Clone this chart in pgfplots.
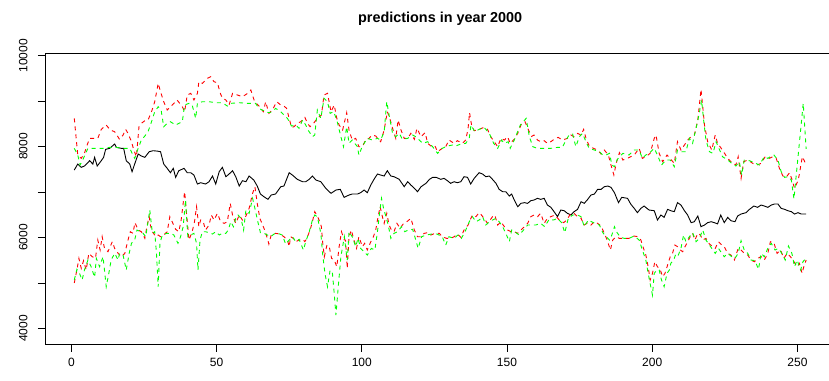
\documentclass[border=0pt]{standalone}
\usepackage{pgfplots}
\pgfplotsset{compat=1.18}
\usepackage{fontspec}
\setmainfont{Liberation Sans}

\begin{document}
\begin{tikzpicture}[x=1pt,y=1pt]
\useasboundingbox (0,0) rectangle (829,380);
\node[font=\fontsize{14.4}{17}\selectfont\bfseries] at (440.2,361) {predictions in year 2000};
\begin{axis}[
	at={(45pt,35.2pt)}, anchor=south west,
	scale only axis, width=790.4pt, height=291.5pt,
	xmin=-9.08, xmax=263.08,
	ymin=3640, ymax=10053,
	axis line style={line width=0.8pt},
	tick align=outside, major tick length=7pt,
	tick pos=left,
	tick style={black, line width=0.8pt},
	xtick={0,50,...,250},
	ytick={4000,5000,...,10000},
	yticklabels={4000,,6000,,8000,,10000},
	scaled y ticks=false,
	yticklabel style={rotate=90, yshift=7pt},
	xticklabel style={yshift=-3pt},
	tick label style={font=\fontsize{12}{14}\selectfont},
	/pgf/number format/assume math mode=true,
	no markers,
	every axis plot/.append style={line width=0.9pt},
]

% actual values (black)
\addplot[black] coordinates {
(1,7485)(2.2,7617)(3.4,7544)(4.5,7573)(6.3,7690)(7.4,7617)(8,7764)(8.9,7573)(10.3,7690)(11.1,7764)(11.8,7940)(13.2,7962)(14.9,8057)(15.5,7984)(17.2,7962)(18,7962)(18.9,7690)(20.1,7617)(20.9,7448)(21.8,7617)(23,7837)(24.1,7793)(25.3,7764)(26.8,7888)(28.2,7910)(29.7,7900)
(30.7,7888)(31.8,7617)(33,7522)(34.1,7426)(35.1,7522)(35.9,7324)(37,7470)(38.8,7522)(39.9,7426)(41.1,7426)(42.2,7375)(43.4,7177)(44.5,7206)(46.2,7177)(47.4,7228)(48.6,7353)(49.7,7177)(50.9,7448)(52,7544)(53.2,7338)(54.3,7397)(55.5,7470)(56.6,7338)(57.8,7133)(58.9,7250)(60.1,7228)(61.2,7353)
(62.8,7265)(64,7133)(65.1,6957)(66.3,6898)(67.7,6840)(68.8,6935)(70.3,6957)(72.1,7118)(73.2,7133)(75,7426)(76.1,7375)(77.8,7280)(79.6,7228)(80.7,7228)(81.9,7280)(83,7353)(84.2,7265)(85.9,7228)(87.6,7082)(89.4,6972)(91.1,7045)(92.6,7060)
(93.9,6884)(95.6,6935)(96.7,6957)(98.5,6957)(99.6,6986)(100.8,7045)(101.9,6986)(103.1,7155)(104.2,7280)(105.4,7397)(106.5,7375)(107.7,7353)(108.8,7470)(110,7353)(111.1,7338)(112.9,7280)(114.6,7118)(115.8,7228)(116.9,7155)(118.1,7082)(119.2,7008)(120.4,7118)(122.1,7192)(123.3,7280)(124.4,7324)(125.6,7324)
(127.2,7280)(128.3,7302)(129.5,7250)(130.6,7192)(131.8,7228)(132.9,7206)(134.1,7228)(135.2,7338)(136.4,7324)(137.5,7177)(138.7,7302)(140.4,7426)(141.6,7397)(142.7,7338)(143.9,7353)(145,7280)(146.2,7192)(147.3,7060)(148.5,7008)(149.6,7008)(150.8,6913)(151.6,6957)(152.5,6825)(153.7,6678)(154.8,6752)(156,6767)(157.1,6752)
(158.2,6811)(159.3,6825)(160.5,6862)(161.6,6840)(162.8,6862)(163.9,6715)(165.1,6664)(166.2,6569)(167.4,6459)(168.5,6605)(169.7,6590)(170.8,6532)(172,6495)(173.1,6569)(174.3,6620)(175.5,6789)(176.6,6752)(177.8,6840)(178.9,6935)(180.1,6957)(181.2,7060)(182.4,7060)(183.5,7118)(184.7,7133)(185.8,7104)(187,6986)(188.4,6767)(189.5,6884)
(191.5,6862)(192.6,6737)(193.8,6642)(194.9,6547)(196.1,6642)(197.2,6693)(198.9,6605)(200.7,6590)(201.8,6385)(203,6495)(204.1,6444)(205.3,6620)(206.4,6590)(207.6,6569)(208.7,6767)(209.9,6715)(211.1,6590)(212.2,6495)(213.4,6327)(214.5,6348)(215.7,6473)(216.8,6238)(218,6275)(219.1,6327)(220.3,6348)(221.4,6327)
(222.5,6300)(223.6,6495)(224.8,6327)(226,6444)(227.1,6370)(228.5,6348)(229.4,6473)(230.6,6517)(232.3,6547)(233.5,6620)(235,6693)(236.3,6664)(237.5,6715)(238.6,6693)(239.8,6664)(241,6715)(242.1,6737)(243.3,6737)(244.4,6642)(245.6,6620)(246.7,6590)(247.9,6569)(249,6517)(250.2,6547)(251.3,6517)(253,6517)
};

% upper prediction bound (red)
\addplot[red, dash pattern=on 4pt off 4pt] coordinates {
(1,8622)(2.2,7815)(3.4,7742)(4.5,7852)(5.3,8013)(6.3,8182)(8,8182)(9.1,8182)(10.3,8380)(12,8475)(13.4,8365)(14.9,8328)(16.6,8160)(17.8,8255)(18.7,8380)(19.5,8292)(20.7,8108)(21.5,7925)(22.4,7779)(23.3,8453)(24.1,8512)(25.3,8570)(26.4,8585)(27.6,8768)(28.7,8988)(29.9,9392)
(30.7,9208)(31.8,8988)(33,8805)(34.7,8915)(36.4,9025)(38.2,8878)(39,8768)(39.9,9135)(41.1,9172)(42.2,9025)(43.4,9172)(43.9,9428)(45.1,9392)(46.8,9502)(48,9538)(49.1,9428)(50.3,9406)(51.2,9187)(52,9062)(53.2,9025)(54.3,8915)(55.5,9172)(57.2,9135)(58.9,9098)(60.7,9172)(61.8,9245)
(63.1,8988)(64.6,8893)(66.1,8768)(66.9,8988)(68,8732)(69.2,8805)(70.7,8988)(72.1,8915)(73.2,8893)(74.1,8842)(75,8622)(75.8,8424)(76.7,8438)(77.8,8512)(79,8548)(80.4,8644)(81.3,8512)(82.2,8438)(83.4,8512)(84.7,8622)(86.1,8695)(87,9135)(88.2,9172)(89.4,8768)(90.5,8915)(91.4,8622)(92.2,8475)(93.4,8365)
(94.8,8746)(95.6,8365)(96.7,8145)(97.9,8182)(99,7998)(100.2,7998)(101.3,8145)(102.5,8182)(103.6,8255)(104.8,8233)(106.5,8108)(107.7,8365)(108.8,8768)(109.8,8585)(110.6,8402)(111.7,8182)(112.5,8585)(113.5,8365)(114.6,8182)(115.8,8182)(116.9,8292)(118.1,8160)(119,8402)(120.4,8218)(121.8,8307)(122.7,8072)(124.1,7998)(125.2,8013)(126.1,7888)
(127.7,7962)(128.9,7998)(130,8145)(131.8,8072)(132.9,8131)(134.6,8072)(135.8,8145)(136.6,8402)(137.1,8746)(137.8,8475)(138.7,8350)(140.4,8380)(142.1,8424)(143.3,8380)(144.4,8218)(145.6,8108)(146.8,7998)(147.9,8182)(149.1,8145)(150.2,8218)(151.1,8072)(152.5,8160)(153.7,8292)(154.8,8475)(156.2,8548)(157.4,8365)
(158.5,8225)(159.3,8255)(160.5,8145)(161.6,8108)(162.8,8131)(163.9,8072)(165.1,8108)(166.2,8160)(167.6,8204)(169.1,8145)(170.8,8182)(172,8255)(173.1,8218)(174.3,8292)(175.5,8255)(176.4,8380)(177.2,8182)(178.3,8013)(179.8,7962)(181.2,7925)(182.4,7837)(183.5,7925)(184.9,7815)(185.8,7595)(186.8,7375)(187.6,7632)(188.7,7866)(189.9,7705)
(191.5,7742)(192.6,7779)(193.8,7815)(195.5,7962)(196.6,7742)(197.8,7779)(199.3,7852)(200.7,8182)(201.3,8255)(202.4,7852)(203.6,7668)(205.1,7815)(206.4,7720)(207.6,7632)(208.7,8108)(209.9,7925)(211.1,8035)(212.2,8145)(213.4,8218)(214.5,8255)(215.7,8585)(216.8,9260)(217.4,8878)(218,8475)(219.1,8108)(220.5,7925)(221.7,8255)
(222.5,8072)(224.2,7925)(226,7742)(227.7,7632)(228.8,7595)(229.6,7779)(230.6,7302)(231.5,7668)(232.9,7705)(234.6,7632)(236.1,7595)(237.5,7632)(238.9,7779)(240.4,7742)(241.5,7779)(242.7,7742)(243.8,7522)(245,7353)(246.1,7324)(247.3,7426)(248.1,7280)(249,7082)(250.3,7265)(251.7,7780)(253,7600)
};

% upper prediction bound (green)
\addplot[green, dash pattern=on 4pt off 4pt] coordinates {
(1,7962)(2.2,7815)(3,7595)(3.9,7705)(5.7,7962)(8,7962)(10.9,7962)(13.2,7984)(15.5,7984)(17.2,7962)(20.1,7962)(21.2,7815)(21.8,7742)(23,7962)(24.1,8145)(25.3,8233)(26.4,8328)(27.6,8548)(28.7,8768)(29.9,8878)
(30.9,8805)(31.8,8438)(33,8512)(34.1,8548)(35.9,8475)(37,8512)(38.2,8548)(39,8915)(40.5,8952)(41.6,8915)(42.8,8622)(43.4,8952)(45.1,8988)(47.4,8988)(49.7,8966)(52,8966)(53.7,8893)(54.9,8952)(57.8,8966)(60.7,8952)
(63.4,8952)(64.6,8842)(65.7,8805)(66.9,8768)(68,8746)(69.2,8768)(70.3,8842)(72.1,8768)(73.2,8695)(74.4,8622)(75.8,8453)(77.3,8475)(78.4,8402)(79.6,8585)(80.7,8475)(81.5,8365)(83,8218)(83.8,8255)(84.7,8805)(85.9,8622)(87,9062)(88.2,8988)(89.1,8732)(90.3,8768)(91.4,8585)(92.8,8218)(93.7,7998)
(94.8,8438)(95.6,8072)(96.7,8145)(98.5,7998)(99,7815)(100.2,8013)(101.9,8182)(103.6,8145)(105.4,8182)(106.5,8145)(107.7,8328)(108.6,8988)(109.4,8695)(110.6,8292)(111.7,8218)(112.9,8292)(114,8160)(115.8,8182)(117.5,8255)(118.6,8218)(119.8,8145)(121,8072)(122.7,8108)(124.4,7998)(126.1,7852)
(127.7,7962)(129.5,8013)(131.2,8035)(132.3,8013)(134.1,8057)(135.8,8072)(137,8182)(137.6,8475)(138.9,8328)(140.4,8380)(142.1,8424)(143.9,8292)(145.4,8072)(146.8,7962)(148.1,8145)(149.1,8072)(150.4,8108)(151.1,7962)(152.5,8145)(154.6,8475)(156.6,8622)(157.7,8218)(158.9,7998)
(160.5,7962)(162.8,7962)(165.1,7962)(167.4,7984)(169.1,7984)(170.3,8145)(171.4,8255)(172.6,8277)(173.7,7998)(174.9,8218)(176,8292)(177.2,8108)(178.3,7962)(180.1,7925)(181.8,7888)(183,7815)(184.1,7815)(185.3,7852)(186.1,7595)(187,7558)(187.9,7705)(188.7,7779)(189.9,7852)
(192,7815)(193.8,7925)(195.5,7925)(196.6,7742)(197.8,7815)(199.5,7888)(200.7,7962)(201.8,7815)(203.2,7595)(204.7,7705)(206.2,7705)(207.6,7558)(208.7,7925)(210.1,7888)(211.6,7888)(212.8,8182)(213.9,8072)(215.1,8402)(216.2,8732)(217,9025)(217.7,8585)(218.5,8145)(219.7,7888)(220.9,7852)(222,8108)
(224.2,7779)(226,7705)(227.7,7617)(228.8,7573)(230,7668)(230.8,7375)(231.7,7705)(233.5,7690)(235.2,7646)(236.9,7595)(238.6,7779)(239.8,7742)(241,7793)(241.9,7815)(243.3,7705)(244.4,7448)(245.6,7324)(246.9,7338)(247.9,7265)(248.8,6850)(252,8953)(253,7950)
};

% lower prediction bound (red)
\addplot[red, dash pattern=on 4pt off 4pt] coordinates {
(1,5000)(1.9,5285)(2.6,5542)(3.4,5322)(4.2,5490)(5.1,5285)(6,5652)(7.2,5578)(8.3,5542)(9.1,5945)(9.9,5725)(10.6,6018)(11.4,5762)(12.6,5688)(14.1,5908)(14.9,5762)(16.1,5652)(17.2,5578)(18.4,5652)(19.5,5945)(20.3,6128)(21.2,6092)(21.9,6327)(23,6165)(24.1,6128)(25.3,5982)(26.1,6275)(26.8,6459)(27.2,6275)(27.9,6128)(29.1,6018)(29.9,6055)
(30.7,6018)(31.8,6055)(33,6128)(33.9,6459)(34.7,6348)(35.9,6180)(37,6128)(37.8,6385)(38.5,6752)(39,7008)(39.7,6495)(40.5,5945)(41.6,6128)(42.4,6348)(43.1,6678)(43.9,6238)(44.5,6385)(45.4,6348)(46.2,6165)(47.4,6275)(48.2,6495)(49.1,6385)(50.3,6532)(51.4,6348)(52.6,6312)(53.7,6348)(54.7,6752)(55.5,6495)(56.6,6312)(57.8,6495)(58.9,6385)(60.1,6473)(61.2,6642)(62.4,6972)(63.2,7118)
(64,6752)(64.9,6422)(66.1,6238)(66.9,6107)(68,5857)(68.8,6055)(70.3,6092)(71.8,6077)(73.2,6018)(74.4,5945)(75,5799)(75.5,6018)(76.4,5982)(77.3,5908)(78.4,5945)(79.6,5960)(80.4,5908)(81.3,6018)(82.2,6165)(83,6348)(83.8,6569)(84.5,6495)(85.3,6385)(86.1,6238)(86.5,5908)(87.1,5578)(88,5835)(88.8,5799)(89.6,5542)(90.5,5505)(91.4,5358)(92.2,5799)(93,6128)(94,5945)
(94.4,5945)(95,5322)(95.6,6018)(96.4,6165)(97.3,5945)(98.2,5762)(99,6018)(100.2,5799)(101,5872)(101.9,5725)(103.1,5908)(104,6018)(104.8,6165)(105.4,6385)(106.3,6678)(107.1,6459)(107.7,6312)(108.6,6532)(109.4,6275)(110.2,6165)(111.1,6128)(112.1,6312)(113.2,6202)(114.4,6312)(115.5,6348)(116.9,6422)(118.1,6165)(119.2,6018)(120.4,6018)(121.5,6092)(122.7,6107)(123.8,6055)(125.2,6092)(126.7,6092)
(127.7,6018)(129.2,5982)(130.6,5982)(131.8,6018)(132.9,6077)(134.1,6004)(135.2,6165)(136.6,6275)(137.3,6385)(138.1,6495)(139.3,6459)(140.4,6547)(141.2,6495)(142.1,6422)(143.3,6312)(144.2,6385)(145,6459)(145.8,6495)(146.8,6275)(147.9,6348)(149.1,6238)(150.2,6165)(151.4,6128)(152.5,6128)(153.7,6092)(154.8,6165)(156,6238)(157.1,6312)
(158.2,6459)(159.3,6495)(160.5,6459)(161.6,6532)(162.8,6312)(163.9,6422)(165.1,6459)(166.5,6495)(168,6385)(169.5,6327)(170.6,6385)(171.8,6517)(173.1,6532)(174.3,6459)(175.5,6422)(176.6,6275)(177.8,6327)(178.9,6275)(180.1,6348)(181.2,6312)(182.4,6253)(183.5,6092)(184.4,5960)(185.6,5725)(186.4,5945)(187.6,6018)(188.7,5982)(190.4,5982)
(192,5982)(193.8,6033)(195.1,6018)(196.1,5945)(197,5762)(197.8,5615)(198.6,5358)(199.3,5065)(200.1,5212)(200.9,5468)(201.8,5358)(202.8,5285)(203.6,5138)(204.4,5212)(205.3,5395)(206.2,5578)(207,5652)(207.8,5835)(208.7,5799)(209.7,5725)(210.5,5688)(211.3,5799)(212.2,5908)(213.1,6018)(213.9,6092)(214.7,5945)(215.7,6092)(216.6,6055)(217.4,5945)(218.5,5982)(219.7,5857)(220.9,5799)(221.7,5762)
(222.8,5908)(224,5835)(224.8,5799)(226,5652)(227.1,5615)(228.3,5505)(229.6,5762)(230.6,5725)(231.7,5652)(232.9,5615)(234,5505)(235.2,5468)(236.3,5542)(237.5,5578)(238.6,5505)(239.8,5652)(240.7,5908)(241.9,5886)(243,5652)(244.2,5725)(245.3,5542)(246.5,5652)(247.6,5578)(248.8,5468)(249.9,5358)(250.7,5432)(251.6,5212)(252.2,5358)(253,5505)
};

% lower prediction bound (green)
\addplot[green, dash pattern=on 4pt off 4pt] coordinates {
(1,5065)(1.9,5300)(2.8,5212)(3.7,5065)(4.5,5285)(5.7,5505)(6.8,5358)(8,5124)(8.6,5542)(9.7,5358)(10.9,5578)(11.4,5285)(12,4918)(12.9,5212)(13.7,5505)(14.9,5652)(16.1,5505)(16.6,5652)(17.8,5615)(18.9,5285)(19.9,5652)(20.7,5872)(21.8,5945)(22.6,6165)(23.8,6128)(24.7,6092)(25.6,6018)(26.4,6348)(27,6605)(27.9,6092)(28.7,6128)(29.3,5652)(29.9,4918)
(30.5,5872)(31.3,6055)(32.8,6092)(34.1,6092)(35.3,6055)(36.7,5872)(37.6,6018)(38.5,6238)(39.3,6825)(40.1,6018)(41.1,6055)(42.2,6092)(43.1,5872)(43.6,5285)(44.3,5945)(45.1,6128)(46.2,6128)(47.4,6107)(48.6,6077)(49.7,6128)(50.9,6055)(52,6092)(53.2,6092)(54,6165)(54.9,6348)(55.8,6238)(56.6,6422)(57.4,6495)(58.4,6422)(59.3,6165)(60.1,6605)(61.2,6532)(62.4,6862)(63.2,6642)
(64.2,6348)(65.1,6107)(66.3,6092)(67.5,6055)(68.6,6018)(69.8,6077)(71.1,6092)(72.6,6055)(73.8,5857)(75,5945)(76.1,6018)(77.3,5908)(78.4,5960)(79.9,5725)(80.7,5908)(81.9,6128)(83,6385)(83.8,6495)(84.7,6459)(85.9,6092)(86.5,5652)(87.3,5212)(88.2,4918)(89.1,5285)(89.9,5212)(90.5,4772)(91.1,4295)(91.9,4918)(92.8,5578)(94,6018)
(94.4,5799)(95,5505)(95.6,6128)(96.7,6018)(97.9,5799)(98.7,5982)(99.6,5762)(100.8,5688)(101.9,5615)(103.3,5762)(104.5,5725)(105.4,6128)(106.1,6532)(106.8,6862)(107.5,6642)(108.3,6459)(109.1,6275)(110,5982)(111.1,6092)(112.3,6128)(113.7,6238)(114.8,6128)(116,6165)(117.5,6180)(118.6,5945)(119.4,5762)(120.6,6018)(122.1,6055)(124.1,6077)(125.9,6077)
(127.7,6018)(128.9,5835)(130,6018)(131.8,5982)(133.1,6055)(134.3,5982)(135.8,6165)(137,6348)(138.1,6459)(139.3,6348)(140.4,6385)(141.6,6459)(142.7,6275)(143.9,6348)(145,6385)(146.2,6422)(147.3,6348)(148.5,6238)(149.6,6092)(150.8,5908)(151.6,6165)(153.1,6107)(154.2,6055)(155.7,6165)(157.1,6275)
(158.2,6275)(159.9,6275)(161.6,6312)(163,6238)(164.5,6400)(166,6385)(167.4,6422)(168.8,6327)(169.9,6107)(171.1,6422)(172.6,6495)(174.3,6495)(175.5,6459)(176.6,6238)(178,6385)(179.1,6348)(180.3,6312)(181.8,6275)(183,6107)(184.1,6018)(185.3,5945)(186.1,6055)(187,6238)(187.9,6107)(189.1,6004)(190.4,5982)
(192,5982)(193.8,6033)(195.5,5945)(196.6,5725)(197.8,5505)(198.6,5212)(199.5,4918)(200.1,4735)(200.7,5212)(201.6,5285)(202.4,5285)(203.2,5065)(204.1,4918)(205.1,5212)(205.9,5285)(206.4,5432)(207.4,5505)(208.2,5652)(209,5615)(209.9,5762)(210.8,6055)(211.6,5908)(212.8,6018)(213.9,6107)(215.1,5908)(216.2,5982)(217.4,6165)(218.5,5945)(219.7,5835)(220.9,5725)(221.7,5652)
(222.8,5762)(224.8,5578)(226,5652)(227.1,5593)(228.5,5542)(229.6,5652)(230.6,5930)(231.7,5725)(232.9,5652)(234,5505)(235.4,5490)(236.6,5300)(237.5,5652)(238.6,5578)(239.8,5762)(241,5872)(242.3,5725)(243.5,5762)(244.6,5652)(245.8,5505)(246.9,5813)(248.1,5652)(249,5358)(249.9,5505)(251.1,5285)(251.9,5468)(253,5542)
};

\end{axis}
\end{tikzpicture}
\end{document}
